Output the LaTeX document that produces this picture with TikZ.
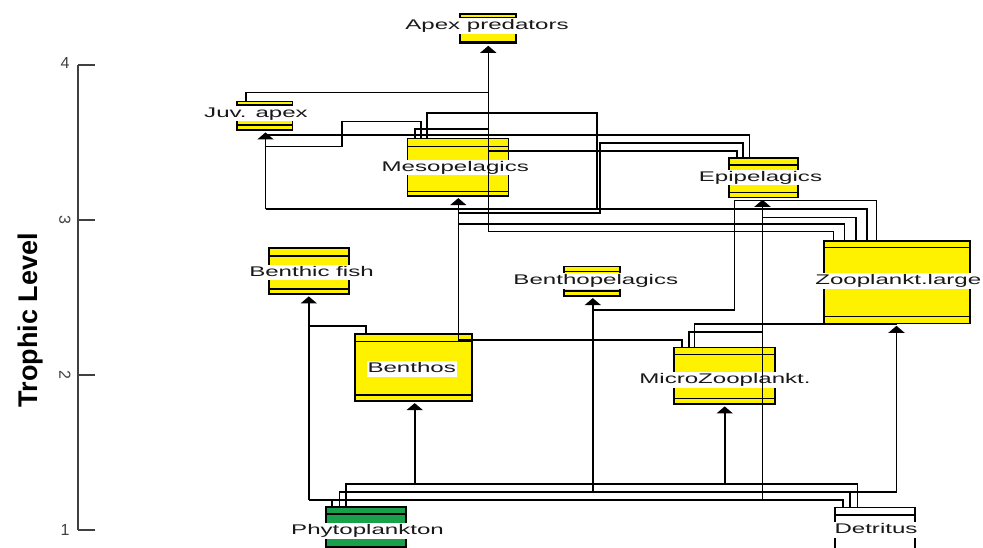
\documentclass[tikz,border=0pt]{standalone}
\usepackage{fontspec}
\usepackage{graphicx}
\setmainfont{Liberation Sans}
\usetikzlibrary{arrows.meta,calc}
\definecolor{boxyellow}{RGB}{255,242,0}
\definecolor{phygreen}{RGB}{25,160,75}
\newcommand{\wide}[1]{\scalebox{1.72}[1]{#1}}
\newcommand{\bandlines}[3]{%
  \draw[band] ([yshift=-#2pt]#1.north west) -- ([yshift=-#2pt]#1.north east);
  \draw[band] ([yshift=#3pt]#1.south west) -- ([yshift=#3pt]#1.south east);}
\tikzset{
  ybox/.style={draw=black, line width=1.6pt, fill=boxyellow, inner sep=0pt, anchor=north west},
  band/.style={line width=1.5pt},
  lbl/.style={fill=white, inner xsep=1pt, inner ysep=1pt, text height=10.5pt, text depth=3pt,
              font=\fontsize{14}{16}\selectfont, text=black!90},
  flow/.style={line width=1.6pt},
  trunk/.style={line width=1.6pt, -{Triangle[width=16pt,length=7pt]}, shorten >=1.5pt},
  axisline/.style={line width=1.5pt, draw=black!75},
  ticklbl/.style={font=\fontsize{16}{18}\selectfont, text=black!75, inner sep=0pt}
}
\begin{document}
\begin{tikzpicture}[x=1pt,y=-1pt]
\clip (0,0) rectangle (983,548);
\fill[white] (0,0) rectangle (983,548);

% axis
\node[font=\bfseries\fontsize{27}{30}\selectfont, rotate=90, anchor=base, inner sep=0pt] (tl) at (37,320) {Trophic Level};
\coordinate (ax4) at (78,65);
\coordinate (ax1) at (78,530);
\draw[axisline] (ax4) -- (ax1);
\foreach \yy in {65,220,375,530} \draw[axisline] (78,\yy) -- (95,\yy);
\node[ticklbl] (t4) at (65,63) {4};
\node[ticklbl, rotate=-90] (t3) at (65,220) {3};
\node[ticklbl, rotate=-90] (t2) at (65,375) {2};
\node[ticklbl] (t1) at (65,530) {1};

% boxes
\node[ybox, minimum width=55.7pt, minimum height=29.4pt] (apex) at (459.3,13.3) {};
\node[ybox, minimum width=55.7pt, minimum height=28.6pt] (juv) at (236,100.7) {};
\node[ybox, minimum width=101pt, minimum height=57.3pt] (meso) at (406.7,137.7) {};
\node[ybox, minimum width=69pt, minimum height=39.4pt] (epi) at (728.3,157.3) {};
\node[ybox, minimum width=80pt, minimum height=46pt] (bfish) at (268.3,247.3) {};
\node[ybox, minimum width=55.7pt, minimum height=29.3pt] (bpel) at (563.3,265.7) {};
\node[ybox, minimum width=146pt, minimum height=82.7pt] (zl) at (823.3,240) {};
\node[ybox, minimum width=117pt, minimum height=66.7pt] (benthos) at (354,333.3) {};
\node[ybox, minimum width=101pt, minimum height=56.6pt] (micro) at (673.3,346.7) {};
\node[ybox, fill=phygreen, minimum width=80pt, minimum height=48pt] (phyto) at (325,506) {};
\node[ybox, fill=white, minimum width=80pt, minimum height=48pt] (det) at (834.3,506.7) {};

\bandlines{apex}{4.2}{2.5}
\bandlines{juv}{4.3}{6}
\bandlines{meso}{9}{5}
\bandlines{epi}{7.7}{5.7}
\bandlines{bfish}{8.7}{6}
\bandlines{bpel}{6}{5.7}
\bandlines{zl}{7.3}{7.7}
\bandlines{benthos}{8.4}{6.7}
\bandlines{micro}{7.6}{6.6}
\bandlines{phyto}{8}{8.7}
\bandlines{det}{8.3}{7.3}

% labels
\node[lbl] (apexL) at (487,25.8) {\wide{Apex predators}};
\node[lbl] (juvL) at (256,113.3) {\wide{Juv. apex}};
\node[lbl] (mesoL) at (455.3,167.5) {\wide{Mesopelagics}};
\node[lbl] (epiL) at (760.5,177.5) {\wide{Epipelagics}};
\node[lbl] (bfishL) at (311.5,272.5) {\wide{Benthic fish}};
\node[lbl] (bpelL) at (595.8,280.8) {\wide{Benthopelagics}};
\node[lbl] (zlL) at (898.3,281) {\wide{Zooplankt.large}};
\node[lbl] (benthosL) at (411.7,368.8) {\wide{Benthos}};
\node[lbl] (microL) at (725,380) {\wide{MicroZooplankt.}};
\node[lbl] (phytoL) at (367.5,530.8) {\wide{Phytoplankton}};
\node[lbl] (detL) at (876,530) {\wide{Detritus}};

% flows (prey top -> predator trunk)
\draw[flow] (245.7,0 |- juv.north) |- (488.3,92.7);
\draw[flow] (415,0 |- meso.north) |- (488.3,129.3);
\draw[flow] (420.7,0 |- meso.north) |- (341.7,121.7) |- (265.5,146.7);
\draw[flow] (426.7,0 |- meso.north) |- (596.7,113.3) |- (265.5,209.3);
\draw[flow] (749.3,0 |- epi.north) |- (265.5,135);
\draw[flow] (742.7,0 |- epi.north) |- (600,143.3) |- (458.3,213.3);
\draw[flow] (736.7,0 |- epi.north) |- (488.3,151);
\draw[flow] (833.3,0 |- zl.north) |- (488.3,231.7);
\draw[flow] (844.5,0 |- zl.north) |- (458.3,224.3);
\draw[flow] (856,0 |- zl.north) |- (762.5,217.5);
\draw[flow] (866.7,0 |- zl.north) |- (265.5,209.3);
\draw[flow] (876.5,0 |- zl.north) |- (734.3,200.7) |- (592.8,310);
\draw[flow] (365.7,0 |- benthos.north) |- (308.8,326);
\draw[flow] (681.7,0 |- micro.north) |- (458.3,340);
\draw[flow] (688.7,0 |- micro.north) |- (762.5,331.7);
\draw[flow] (694.3,0 |- micro.north) |- (896.5,324);
\draw[flow] (331.7,0 |- phyto.north) |- (762.5,500);
\draw[flow] (339.3,0 |- phyto.north) |- (896.5,491.7);
\draw[flow] (346,0 |- phyto.north) |- (724.7,484);
\draw[flow] (857.3,0 |- det.north) |- (414.7,484);
\draw[flow] (850,0 |- det.north) |- (592.8,491.7);
\draw[flow] (842.7,0 |- det.north) |- (308.8,500);

% trunks with arrowheads at predator bottoms
\draw[trunk] (488.3,231.7) -- (488.3,0 |- apex.south);
\draw[trunk] (265.5,209.3) -- (265.5,0 |- juv.south);
\draw[trunk] (458.3,340) -- (458.3,0 |- meso.south);
\draw[trunk] (762.5,500) -- (762.5,0 |- epi.south);
\draw[trunk] (308.8,500) -- (308.8,0 |- bfish.south);
\draw[trunk] (592.8,491.7) -- (592.8,0 |- bpel.south);
\draw[trunk] (896.5,491.7) -- (896.5,0 |- zl.south);
\draw[trunk] (414.7,484) -- (414.7,0 |- benthos.south);
\draw[trunk] (724.7,484) -- (724.7,0 |- micro.south);
\end{tikzpicture}
\end{document}
